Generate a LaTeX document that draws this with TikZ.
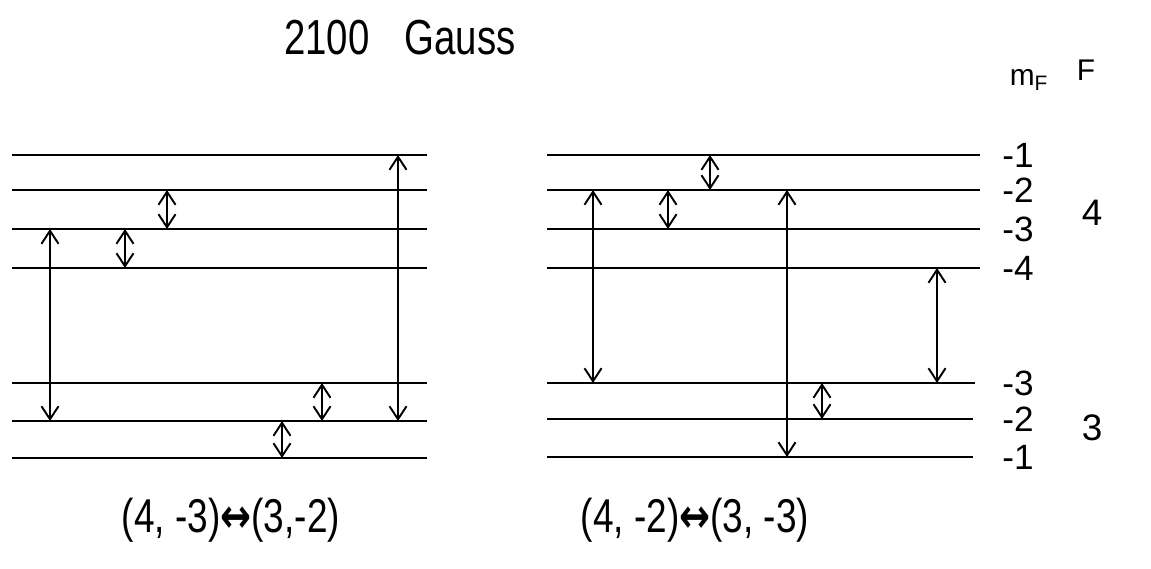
\documentclass[tikz,border=0pt]{standalone}
\usepackage{fontspec}
\usepackage{graphicx}
\setmainfont{Liberation Sans}
\newfontfamily\arrfont{DejaVu Sans}
\usetikzlibrary{arrows.meta}
\newcommand{\cond}[1]{\scalebox{0.78}[1]{#1}}
\newcommand{\lrarr}{{\arrfont\bfseries ↔}}

\begin{document}
\begin{tikzpicture}[
  x=0.02cm, y=-0.02cm,
  lvl/.style={line width=1.5pt},
  tr/.style={line width=1.1pt, {Straight Barb[length=2.6mm,width=3.4mm]}-{Straight Barb[length=2.6mm,width=3.4mm]}},
  ttl/.style={font=\fontsize{28}{32}\selectfont},
  mf/.style={font=\fontsize{20}{24}\selectfont, anchor=west, inner sep=0pt},
  fv/.style={font=\fontsize{21}{24}\selectfont},
  hd/.style={font=\fontsize{17}{20}\selectfont},
  pair/.style={font=\fontsize{27}{30}\selectfont}
]
\useasboundingbox (0,0) rectangle (1151,568);
\node[ttl] (title) at (400,38) {\cond{2100\hspace{9mm}Gauss}};
\node[hd] (mfhead) at (1029,80) {m\textsubscript{F}};
\node[hd] (fhead) at (1086,70) {F};

% left panel levels
\foreach \n/\y in {1/155,2/190,3/229,4/268,5/383,6/421,7/458}{
  \coordinate (a\n) at (12,\y);
  \coordinate (ae\n) at (427,\y);
  \draw[lvl] (a\n) -- (ae\n);
}
% right panel levels
\foreach \n/\y/\e in {1/155/980,2/190/980,3/229/980,4/268/980,5/383/975,6/419/973,7/457/973}{
  \coordinate (b\n) at (547,\y);
  \coordinate (be\n) at (\e,\y);
  \draw[lvl] (b\n) -- (be\n);
}

% transitions
\foreach \x/\f/\t in {50/a3/a6,125/a3/a4,167/a2/a3,398/a1/a6,322/a5/a6,282/a6/a7,
                      710/b1/b2,593/b2/b5,668/b2/b3,787/b2/b7,937/b4/b5,822/b5/b6}
  \draw[tr] (\x,0 |- \f) -- (\x,0 |- \t);

% m_F and F labels
\foreach \n/\m in {1/1,2/2,3/3,4/4,5/3,6/2,7/1}
  \node[mf] (m\n) at (1002,0 |- b\n) {-\m};
\node[fv] (f4) at (1092,213) {4};
\node[fv] (f3) at (1092,428) {3};

\node[pair] (left) at (231,520) {\cond{(4, -3)\lrarr(3,-2)}};
\node[pair] (right) at (695,520) {\cond{(4, -2)\lrarr(3, -3)}};
\end{tikzpicture}
\end{document}
